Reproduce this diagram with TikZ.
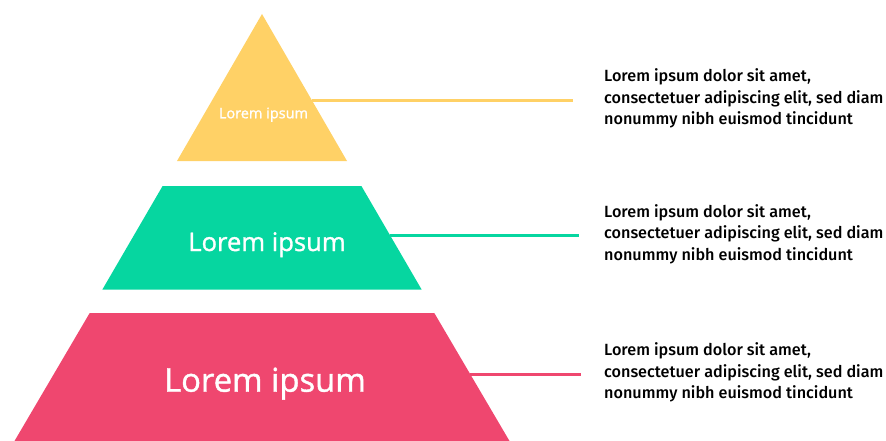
\documentclass[tikz,border=0pt]{standalone}
\usepackage{fontspec}
\newfontfamily\labfont{Open Sans}[FakeBold=1.2]
\newfontfamily\rtext{Fira Sans Medium}
\definecolor{cyel}{HTML}{FFD166}
\definecolor{cteal}{HTML}{06D6A0}
\definecolor{cpink}{HTML}{EF476F}
\begin{document}
\begin{tikzpicture}[x=1pt,y=-1pt,
  lab/.style={text=white, inner sep=0, anchor=base},
  desc/.style={anchor=west, inner sep=0, align=left, font=\rtext\fontsize{16.2}{21.5}\selectfont},
  conn/.style={line width=3pt}]
\useasboundingbox (0,0) rectangle (886,441);
% layers
\fill[cyel] (262,14) -- (347,161) -- (177,161) -- cycle;
\fill[cteal] (162.6,186) -- (361.4,186) -- (421.6,289.5) -- (102.4,289.5) -- cycle;
\fill[cpink] (89.7,313) -- (434.3,313) -- (509.5,441) -- (14.5,441) -- cycle;
% labels
\node[lab, font=\labfont\fontsize{14.5}{17}\selectfont] (l1) at (263.5,118.3) {Lorem ipsum};
\node[lab, font=\labfont\fontsize{25.6}{30}\selectfont] (l2) at (267,251) {Lorem ipsum};
\node[lab, font=\labfont\fontsize{32.8}{38}\selectfont] (l3) at (265,391.7) {Lorem ipsum};
% descriptions
\node[desc] (d1) at (604,98.5) {Lorem ipsum dolor sit amet,\\consectetuer adipiscing elit, sed diam\\nonummy nibh euismod tincidunt};
\node[desc] (d2) at (604,234) {Lorem ipsum dolor sit amet,\\consectetuer adipiscing elit, sed diam\\nonummy nibh euismod tincidunt};
\node[desc] (d3) at (604,372.5) {Lorem ipsum dolor sit amet,\\consectetuer adipiscing elit, sed diam\\nonummy nibh euismod tincidunt};
% connectors
\coordinate (s1) at (311.5,100.7);
\coordinate (e1) at (573,100.7);
\coordinate (s2) at (390,235.7);
\coordinate (e2) at (579,235.7);
\coordinate (s3) at (470,374.7);
\coordinate (e3) at (581,374.7);
\draw[conn, cyel] (s1) -- (e1);
\draw[conn, cteal] (s2) -- (e2);
\draw[conn, cpink] (s3) -- (e3);
\end{tikzpicture}
\end{document}
